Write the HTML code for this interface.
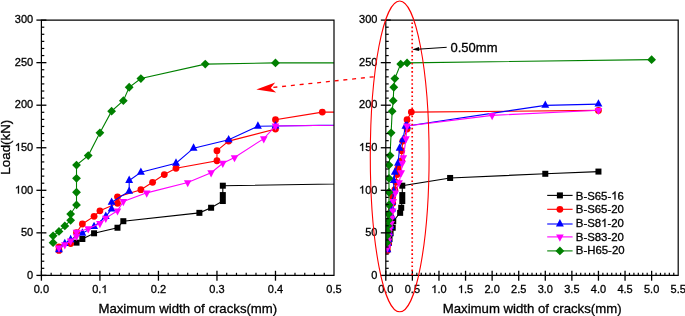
<!DOCTYPE html>
<html><head><meta charset="utf-8"><style>html,body{margin:0;padding:0;background:#fff;-webkit-font-smoothing:antialiased;width:685px;height:316px;overflow:hidden}svg{display:block;will-change:transform}</style></head><body>
<svg width="685" height="316" viewBox="0 0 685 316">
<defs><clipPath id="cl"><rect x="41.4" y="0" width="292.6" height="316"/></clipPath><clipPath id="cr"><rect x="385.8" y="0" width="292.4" height="316"/></clipPath></defs>
<style>.h{fill:none;stroke:none}text{stroke:#000;stroke-width:0.3px}.lg{font-family:"Liberation Sans",sans-serif;font-size:11.4px;fill:#000}.t{font-family:"Liberation Sans",sans-serif;font-size:11px;fill:#000}.ti{font-family:"Liberation Sans",sans-serif;font-size:13.35px;fill:#000}</style>
<rect width="685" height="316" fill="#fff"/>
<g clip-path="url(#cl)"><path d="M76.51 242.64 L82.36 238.98 L94.07 233.28 L117.48 227.74 L123.33 221.19 L199.4 212.85 L211.11 207.75 L222.81 201.02 L222.81 195.07 L222.81 185.7 L749.49 177.96 L1797 173.79 L2382.2 171.58" fill="none" stroke="#000" stroke-width="1.1"/><rect x="73.51" y="239.64" width="6" height="6" fill="#000"/><rect x="79.36" y="235.98" width="6" height="6" fill="#000"/><rect x="91.07" y="230.28" width="6" height="6" fill="#000"/><rect x="114.48" y="224.74" width="6" height="6" fill="#000"/><rect x="120.33" y="218.19" width="6" height="6" fill="#000"/><rect x="196.4" y="209.85" width="6" height="6" fill="#000"/><rect x="208.11" y="204.75" width="6" height="6" fill="#000"/><rect x="219.81" y="198.02" width="6" height="6" fill="#000"/><rect x="219.81" y="192.07" width="6" height="6" fill="#000"/><rect x="219.81" y="182.7" width="6" height="6" fill="#000"/></g>
<g clip-path="url(#cl)"><path d="M58.96 250.47 L58.96 246.81 L70.66 243.57 L76.51 232.68 L82.36 224 L94.07 216.34 L99.92 210.81 L117.48 203.24 L117.48 196.85 L140.88 189.7 L152.59 182.3 L164.29 174.56 L176 168.26 L216.96 160.77 L216.96 150.64 L228.66 141.11 L275.48 129.11 L275.48 119.67 L322.3 112.09 L2382.2 110.39" fill="none" stroke="#f00" stroke-width="1.1"/><circle cx="58.96" cy="250.47" r="3.4" fill="#f00"/><circle cx="58.96" cy="246.81" r="3.4" fill="#f00"/><circle cx="70.66" cy="243.57" r="3.4" fill="#f00"/><circle cx="76.51" cy="232.68" r="3.4" fill="#f00"/><circle cx="82.36" cy="224" r="3.4" fill="#f00"/><circle cx="94.07" cy="216.34" r="3.4" fill="#f00"/><circle cx="99.92" cy="210.81" r="3.4" fill="#f00"/><circle cx="117.48" cy="203.24" r="3.4" fill="#f00"/><circle cx="117.48" cy="196.85" r="3.4" fill="#f00"/><circle cx="140.88" cy="189.7" r="3.4" fill="#f00"/><circle cx="152.59" cy="182.3" r="3.4" fill="#f00"/><circle cx="164.29" cy="174.56" r="3.4" fill="#f00"/><circle cx="176" cy="168.26" r="3.4" fill="#f00"/><circle cx="216.96" cy="160.77" r="3.4" fill="#f00"/><circle cx="216.96" cy="150.64" r="3.4" fill="#f00"/><circle cx="228.66" cy="141.11" r="3.4" fill="#f00"/><circle cx="275.48" cy="129.11" r="3.4" fill="#f00"/><circle cx="275.48" cy="119.67" r="3.4" fill="#f00"/><circle cx="322.3" cy="112.09" r="3.4" fill="#f00"/></g>
<g clip-path="url(#cl)"><path d="M58.96 249.7 L64.81 243.57 L70.66 239.74 L82.36 233.28 L94.07 226.64 L105.77 216.51 L111.62 209.02 L111.62 202.38 L129.18 191.32 L129.18 180.43 L140.88 172.34 L176 163.24 L193.55 148.18 L228.66 139.84 L257.92 126.22 L275.48 125.96 L1797 105.37 L2382.2 104.09" fill="none" stroke="#00f" stroke-width="1.1"/><path d="M58.96 244.77L62.91 252.17L55.01 252.17Z" fill="#00f"/><path d="M64.81 238.64L68.76 246.04L60.86 246.04Z" fill="#00f"/><path d="M70.66 234.81L74.61 242.21L66.71 242.21Z" fill="#00f"/><path d="M82.36 228.34L86.31 235.74L78.41 235.74Z" fill="#00f"/><path d="M94.07 221.7L98.02 229.1L90.12 229.1Z" fill="#00f"/><path d="M105.77 211.58L109.72 218.98L101.82 218.98Z" fill="#00f"/><path d="M111.62 204.09L115.57 211.49L107.67 211.49Z" fill="#00f"/><path d="M111.62 197.45L115.57 204.85L107.67 204.85Z" fill="#00f"/><path d="M129.18 186.39L133.13 193.79L125.23 193.79Z" fill="#00f"/><path d="M129.18 175.5L133.13 182.9L125.23 182.9Z" fill="#00f"/><path d="M140.88 167.41L144.83 174.81L136.93 174.81Z" fill="#00f"/><path d="M176 158.3L179.95 165.7L172.05 165.7Z" fill="#00f"/><path d="M193.55 143.24L197.5 150.64L189.6 150.64Z" fill="#00f"/><path d="M228.66 134.9L232.61 142.3L224.71 142.3Z" fill="#00f"/><path d="M257.92 121.29L261.87 128.69L253.97 128.69Z" fill="#00f"/><path d="M275.48 121.03L279.43 128.43L271.53 128.43Z" fill="#00f"/></g>
<g clip-path="url(#cl)"><path d="M58.96 248 L64.81 244.76 L70.66 240.85 L76.51 236.25 L76.51 232.08 L88.22 228.68 L99.92 223.49 L105.77 218.13 L117.48 210.81 L123.33 201.45 L146.74 192.85 L187.7 182.56 L211.11 172.77 L222.81 163.24 L234.52 157.54 L263.78 138.64 L275.48 125.96 L1211.8 115.41 L2382.2 110.31" fill="none" stroke="#f0f" stroke-width="1.1"/><path d="M58.96 252.8L62.76 245.6L55.16 245.6Z" fill="#f0f"/><path d="M64.81 249.56L68.61 242.36L61.01 242.36Z" fill="#f0f"/><path d="M70.66 245.65L74.46 238.45L66.86 238.45Z" fill="#f0f"/><path d="M76.51 241.05L80.31 233.85L72.71 233.85Z" fill="#f0f"/><path d="M76.51 236.88L80.31 229.68L72.71 229.68Z" fill="#f0f"/><path d="M88.22 233.48L92.02 226.28L84.42 226.28Z" fill="#f0f"/><path d="M99.92 228.29L103.72 221.09L96.12 221.09Z" fill="#f0f"/><path d="M105.77 222.93L109.57 215.73L101.97 215.73Z" fill="#f0f"/><path d="M117.48 215.61L121.28 208.41L113.68 208.41Z" fill="#f0f"/><path d="M123.33 206.25L127.13 199.05L119.53 199.05Z" fill="#f0f"/><path d="M146.74 197.65L150.54 190.45L142.94 190.45Z" fill="#f0f"/><path d="M187.7 187.36L191.5 180.16L183.9 180.16Z" fill="#f0f"/><path d="M211.11 177.57L214.91 170.37L207.31 170.37Z" fill="#f0f"/><path d="M222.81 168.04L226.61 160.84L219.01 160.84Z" fill="#f0f"/><path d="M234.52 162.34L238.32 155.14L230.72 155.14Z" fill="#f0f"/><path d="M263.78 143.44L267.58 136.24L259.98 136.24Z" fill="#f0f"/><path d="M275.48 130.76L279.28 123.56L271.68 123.56Z" fill="#f0f"/></g>
<g clip-path="url(#cl)"><path d="M53.1 242.64 L53.1 235.83 L58.96 231.4 L64.81 225.96 L70.66 220.34 L70.66 214.04 L76.51 204.94 L76.51 192.26 L76.51 178.3 L76.51 165.03 L88.22 155.58 L99.92 132.86 L111.62 111.16 L123.33 100.69 L129.18 87.24 L140.88 78.56 L205.26 64.1 L275.48 62.91 L2967.4 59.67" fill="none" stroke="#008000" stroke-width="1.1"/><path d="M53.1 238.24L57.5 242.64L53.1 247.04L48.7 242.64Z" fill="#008000"/><path d="M53.1 231.43L57.5 235.83L53.1 240.23L48.7 235.83Z" fill="#008000"/><path d="M58.96 227L63.36 231.4L58.96 235.8L54.56 231.4Z" fill="#008000"/><path d="M64.81 221.56L69.21 225.96L64.81 230.36L60.41 225.96Z" fill="#008000"/><path d="M70.66 215.94L75.06 220.34L70.66 224.74L66.26 220.34Z" fill="#008000"/><path d="M70.66 209.64L75.06 214.04L70.66 218.44L66.26 214.04Z" fill="#008000"/><path d="M76.51 200.54L80.91 204.94L76.51 209.34L72.11 204.94Z" fill="#008000"/><path d="M76.51 187.86L80.91 192.26L76.51 196.66L72.11 192.26Z" fill="#008000"/><path d="M76.51 173.9L80.91 178.3L76.51 182.7L72.11 178.3Z" fill="#008000"/><path d="M76.51 160.63L80.91 165.03L76.51 169.43L72.11 165.03Z" fill="#008000"/><path d="M88.22 151.18L92.62 155.58L88.22 159.98L83.82 155.58Z" fill="#008000"/><path d="M99.92 128.46L104.32 132.86L99.92 137.26L95.52 132.86Z" fill="#008000"/><path d="M111.62 106.76L116.02 111.16L111.62 115.56L107.22 111.16Z" fill="#008000"/><path d="M123.33 96.29L127.73 100.69L123.33 105.09L118.93 100.69Z" fill="#008000"/><path d="M129.18 82.84L133.58 87.24L129.18 91.64L124.78 87.24Z" fill="#008000"/><path d="M140.88 74.16L145.28 78.56L140.88 82.96L136.48 78.56Z" fill="#008000"/><path d="M205.26 59.7L209.66 64.1L205.26 68.5L200.86 64.1Z" fill="#008000"/><path d="M275.48 58.51L279.88 62.91L275.48 67.31L271.08 62.91Z" fill="#008000"/></g>
<g clip-path="url(#cr)"><path d="M388.99 242.64 L389.52 238.98 L390.58 233.28 L392.71 227.74 L393.24 221.19 L400.15 212.85 L401.22 207.75 L402.28 201.02 L402.28 195.07 L402.28 185.7 L450.13 177.96 L545.29 173.79 L598.45 171.58" fill="none" stroke="#000" stroke-width="1.1"/><rect x="385.99" y="239.64" width="6" height="6" fill="#000"/><rect x="386.52" y="235.98" width="6" height="6" fill="#000"/><rect x="387.58" y="230.28" width="6" height="6" fill="#000"/><rect x="389.71" y="224.74" width="6" height="6" fill="#000"/><rect x="390.24" y="218.19" width="6" height="6" fill="#000"/><rect x="397.15" y="209.85" width="6" height="6" fill="#000"/><rect x="398.22" y="204.75" width="6" height="6" fill="#000"/><rect x="399.28" y="198.02" width="6" height="6" fill="#000"/><rect x="399.28" y="192.07" width="6" height="6" fill="#000"/><rect x="399.28" y="182.7" width="6" height="6" fill="#000"/><rect x="447.13" y="174.96" width="6" height="6" fill="#000"/><rect x="542.29" y="170.79" width="6" height="6" fill="#000"/><rect x="595.45" y="168.58" width="6" height="6" fill="#000"/></g>
<g clip-path="url(#cr)"><path d="M387.39 250.47 L387.39 246.81 L388.46 243.57 L388.99 232.68 L389.52 224 L390.58 216.34 L391.12 210.81 L392.71 203.24 L392.71 196.85 L394.84 189.7 L395.9 182.3 L396.96 174.56 L398.03 168.26 L401.75 160.77 L401.75 150.64 L402.81 141.11 L407.07 129.11 L407.07 119.67 L411.32 112.09 L598.45 110.39" fill="none" stroke="#f00" stroke-width="1.1"/><circle cx="387.39" cy="250.47" r="3.4" fill="#f00"/><circle cx="387.39" cy="246.81" r="3.4" fill="#f00"/><circle cx="388.46" cy="243.57" r="3.4" fill="#f00"/><circle cx="388.99" cy="232.68" r="3.4" fill="#f00"/><circle cx="389.52" cy="224" r="3.4" fill="#f00"/><circle cx="390.58" cy="216.34" r="3.4" fill="#f00"/><circle cx="391.12" cy="210.81" r="3.4" fill="#f00"/><circle cx="392.71" cy="203.24" r="3.4" fill="#f00"/><circle cx="392.71" cy="196.85" r="3.4" fill="#f00"/><circle cx="394.84" cy="189.7" r="3.4" fill="#f00"/><circle cx="395.9" cy="182.3" r="3.4" fill="#f00"/><circle cx="396.96" cy="174.56" r="3.4" fill="#f00"/><circle cx="398.03" cy="168.26" r="3.4" fill="#f00"/><circle cx="401.75" cy="160.77" r="3.4" fill="#f00"/><circle cx="401.75" cy="150.64" r="3.4" fill="#f00"/><circle cx="402.81" cy="141.11" r="3.4" fill="#f00"/><circle cx="407.07" cy="129.11" r="3.4" fill="#f00"/><circle cx="407.07" cy="119.67" r="3.4" fill="#f00"/><circle cx="411.32" cy="112.09" r="3.4" fill="#f00"/><circle cx="598.45" cy="110.39" r="3.4" fill="#f00"/></g>
<g clip-path="url(#cr)"><path d="M387.39 249.7 L387.93 243.57 L388.46 239.74 L389.52 233.28 L390.58 226.64 L391.65 216.51 L392.18 209.02 L392.18 202.38 L393.77 191.32 L393.77 180.43 L394.84 172.34 L398.03 163.24 L399.62 148.18 L402.81 139.84 L405.47 126.22 L407.07 125.96 L545.29 105.37 L598.45 104.09" fill="none" stroke="#00f" stroke-width="1.1"/><path d="M387.39 244.77L391.34 252.17L383.44 252.17Z" fill="#00f"/><path d="M387.93 238.64L391.88 246.04L383.98 246.04Z" fill="#00f"/><path d="M388.46 234.81L392.41 242.21L384.51 242.21Z" fill="#00f"/><path d="M389.52 228.34L393.47 235.74L385.57 235.74Z" fill="#00f"/><path d="M390.58 221.7L394.53 229.1L386.63 229.1Z" fill="#00f"/><path d="M391.65 211.58L395.6 218.98L387.7 218.98Z" fill="#00f"/><path d="M392.18 204.09L396.13 211.49L388.23 211.49Z" fill="#00f"/><path d="M392.18 197.45L396.13 204.85L388.23 204.85Z" fill="#00f"/><path d="M393.77 186.39L397.72 193.79L389.82 193.79Z" fill="#00f"/><path d="M393.77 175.5L397.72 182.9L389.82 182.9Z" fill="#00f"/><path d="M394.84 167.41L398.79 174.81L390.89 174.81Z" fill="#00f"/><path d="M398.03 158.3L401.98 165.7L394.08 165.7Z" fill="#00f"/><path d="M399.62 143.24L403.57 150.64L395.67 150.64Z" fill="#00f"/><path d="M402.81 134.9L406.76 142.3L398.86 142.3Z" fill="#00f"/><path d="M405.47 121.29L409.42 128.69L401.52 128.69Z" fill="#00f"/><path d="M407.07 121.03L411.02 128.43L403.12 128.43Z" fill="#00f"/><path d="M545.29 100.44L549.24 107.84L541.34 107.84Z" fill="#00f"/><path d="M598.45 99.16L602.4 106.56L594.5 106.56Z" fill="#00f"/></g>
<g clip-path="url(#cr)"><path d="M387.39 248 L387.93 244.76 L388.46 240.85 L388.99 236.25 L388.99 232.08 L390.05 228.68 L391.12 223.49 L391.65 218.13 L392.71 210.81 L393.24 201.45 L395.37 192.85 L399.09 182.56 L401.22 172.77 L402.28 163.24 L403.34 157.54 L406 138.64 L407.07 125.96 L492.13 115.41 L598.45 110.31" fill="none" stroke="#f0f" stroke-width="1.1"/><path d="M387.39 252.8L391.19 245.6L383.59 245.6Z" fill="#f0f"/><path d="M387.93 249.56L391.73 242.36L384.13 242.36Z" fill="#f0f"/><path d="M388.46 245.65L392.26 238.45L384.66 238.45Z" fill="#f0f"/><path d="M388.99 241.05L392.79 233.85L385.19 233.85Z" fill="#f0f"/><path d="M388.99 236.88L392.79 229.68L385.19 229.68Z" fill="#f0f"/><path d="M390.05 233.48L393.85 226.28L386.25 226.28Z" fill="#f0f"/><path d="M391.12 228.29L394.92 221.09L387.32 221.09Z" fill="#f0f"/><path d="M391.65 222.93L395.45 215.73L387.85 215.73Z" fill="#f0f"/><path d="M392.71 215.61L396.51 208.41L388.91 208.41Z" fill="#f0f"/><path d="M393.24 206.25L397.04 199.05L389.44 199.05Z" fill="#f0f"/><path d="M395.37 197.65L399.17 190.45L391.57 190.45Z" fill="#f0f"/><path d="M399.09 187.36L402.89 180.16L395.29 180.16Z" fill="#f0f"/><path d="M401.22 177.57L405.02 170.37L397.42 170.37Z" fill="#f0f"/><path d="M402.28 168.04L406.08 160.84L398.48 160.84Z" fill="#f0f"/><path d="M403.34 162.34L407.14 155.14L399.54 155.14Z" fill="#f0f"/><path d="M406 143.44L409.8 136.24L402.2 136.24Z" fill="#f0f"/><path d="M407.07 130.76L410.87 123.56L403.27 123.56Z" fill="#f0f"/><path d="M492.13 120.21L495.93 113.01L488.33 113.01Z" fill="#f0f"/><path d="M598.45 115.11L602.25 107.91L594.65 107.91Z" fill="#f0f"/></g>
<g clip-path="url(#cr)"><path d="M386.86 242.64 L386.86 235.83 L387.39 231.4 L387.93 225.96 L388.46 220.34 L388.46 214.04 L388.99 204.94 L388.99 192.26 L388.99 178.3 L388.99 165.03 L390.05 155.58 L391.12 132.86 L392.18 111.16 L393.24 100.69 L393.77 87.24 L394.84 78.56 L400.69 64.1 L407.07 62.91 L651.62 59.67" fill="none" stroke="#008000" stroke-width="1.1"/><path d="M386.86 238.24L391.26 242.64L386.86 247.04L382.46 242.64Z" fill="#008000"/><path d="M386.86 231.43L391.26 235.83L386.86 240.23L382.46 235.83Z" fill="#008000"/><path d="M387.39 227L391.79 231.4L387.39 235.8L382.99 231.4Z" fill="#008000"/><path d="M387.93 221.56L392.33 225.96L387.93 230.36L383.53 225.96Z" fill="#008000"/><path d="M388.46 215.94L392.86 220.34L388.46 224.74L384.06 220.34Z" fill="#008000"/><path d="M388.46 209.64L392.86 214.04L388.46 218.44L384.06 214.04Z" fill="#008000"/><path d="M388.99 200.54L393.39 204.94L388.99 209.34L384.59 204.94Z" fill="#008000"/><path d="M388.99 187.86L393.39 192.26L388.99 196.66L384.59 192.26Z" fill="#008000"/><path d="M388.99 173.9L393.39 178.3L388.99 182.7L384.59 178.3Z" fill="#008000"/><path d="M388.99 160.63L393.39 165.03L388.99 169.43L384.59 165.03Z" fill="#008000"/><path d="M390.05 151.18L394.45 155.58L390.05 159.98L385.65 155.58Z" fill="#008000"/><path d="M391.12 128.46L395.52 132.86L391.12 137.26L386.72 132.86Z" fill="#008000"/><path d="M392.18 106.76L396.58 111.16L392.18 115.56L387.78 111.16Z" fill="#008000"/><path d="M393.24 96.29L397.64 100.69L393.24 105.09L388.84 100.69Z" fill="#008000"/><path d="M393.77 82.84L398.17 87.24L393.77 91.64L389.37 87.24Z" fill="#008000"/><path d="M394.84 74.16L399.24 78.56L394.84 82.96L390.44 78.56Z" fill="#008000"/><path d="M400.69 59.7L405.09 64.1L400.69 68.5L396.29 64.1Z" fill="#008000"/><path d="M407.07 58.51L411.47 62.91L407.07 67.31L402.67 62.91Z" fill="#008000"/><path d="M651.62 55.27L656.02 59.67L651.62 64.07L647.22 59.67Z" fill="#008000"/></g>
<path d="M41.4 20.1H334V275.4H41.4Z" fill="none" stroke="#000" stroke-width="1.2"/>
<path d="M36.4 275.4H46.4" stroke="#000" stroke-width="1.3"/>
<path d="M41.4 268.31H44.3" stroke="#000" stroke-width="1.2"/>
<path d="M41.4 261.22H44.3" stroke="#000" stroke-width="1.2"/>
<path d="M41.4 254.12H44.3" stroke="#000" stroke-width="1.2"/>
<path d="M41.4 247.03H44.3" stroke="#000" stroke-width="1.2"/>
<path d="M41.4 239.94H44.3" stroke="#000" stroke-width="1.2"/>
<text x="33.2" y="278.6" text-anchor="end" class="t">0</text>
<path d="M36.4 232.85H46.4" stroke="#000" stroke-width="1.3"/>
<path d="M41.4 225.76H44.3" stroke="#000" stroke-width="1.2"/>
<path d="M41.4 218.67H44.3" stroke="#000" stroke-width="1.2"/>
<path d="M41.4 211.57H44.3" stroke="#000" stroke-width="1.2"/>
<path d="M41.4 204.48H44.3" stroke="#000" stroke-width="1.2"/>
<path d="M41.4 197.39H44.3" stroke="#000" stroke-width="1.2"/>
<text x="33.2" y="236.05" text-anchor="end" class="t">50</text>
<path d="M36.4 190.3H46.4" stroke="#000" stroke-width="1.3"/>
<path d="M41.4 183.21H44.3" stroke="#000" stroke-width="1.2"/>
<path d="M41.4 176.12H44.3" stroke="#000" stroke-width="1.2"/>
<path d="M41.4 169.02H44.3" stroke="#000" stroke-width="1.2"/>
<path d="M41.4 161.93H44.3" stroke="#000" stroke-width="1.2"/>
<path d="M41.4 154.84H44.3" stroke="#000" stroke-width="1.2"/>
<text x="33.2" y="193.5" text-anchor="end" class="t"><tspan class="h">1</tspan>00</text>
<path d="M36.4 147.75H46.4" stroke="#000" stroke-width="1.3"/>
<path d="M41.4 140.66H44.3" stroke="#000" stroke-width="1.2"/>
<path d="M41.4 133.57H44.3" stroke="#000" stroke-width="1.2"/>
<path d="M41.4 126.47H44.3" stroke="#000" stroke-width="1.2"/>
<path d="M41.4 119.38H44.3" stroke="#000" stroke-width="1.2"/>
<path d="M41.4 112.29H44.3" stroke="#000" stroke-width="1.2"/>
<text x="33.2" y="150.95" text-anchor="end" class="t"><tspan class="h">1</tspan>50</text>
<path d="M36.4 105.2H46.4" stroke="#000" stroke-width="1.3"/>
<path d="M41.4 98.11H44.3" stroke="#000" stroke-width="1.2"/>
<path d="M41.4 91.02H44.3" stroke="#000" stroke-width="1.2"/>
<path d="M41.4 83.92H44.3" stroke="#000" stroke-width="1.2"/>
<path d="M41.4 76.83H44.3" stroke="#000" stroke-width="1.2"/>
<path d="M41.4 69.74H44.3" stroke="#000" stroke-width="1.2"/>
<text x="33.2" y="108.4" text-anchor="end" class="t">200</text>
<path d="M36.4 62.65H46.4" stroke="#000" stroke-width="1.3"/>
<path d="M41.4 55.56H44.3" stroke="#000" stroke-width="1.2"/>
<path d="M41.4 48.47H44.3" stroke="#000" stroke-width="1.2"/>
<path d="M41.4 41.37H44.3" stroke="#000" stroke-width="1.2"/>
<path d="M41.4 34.28H44.3" stroke="#000" stroke-width="1.2"/>
<path d="M41.4 27.19H44.3" stroke="#000" stroke-width="1.2"/>
<text x="33.2" y="65.85" text-anchor="end" class="t">250</text>
<path d="M36.4 20.1H46.4" stroke="#000" stroke-width="1.3"/>
<text x="33.2" y="23.3" text-anchor="end" class="t">300</text>
<path d="M41.4 270.8V280.7" stroke="#000" stroke-width="1.3"/>
<path d="M51.15 275.4V272.8" stroke="#000" stroke-width="1.2"/>
<path d="M60.91 275.4V272.8" stroke="#000" stroke-width="1.2"/>
<path d="M70.66 275.4V272.8" stroke="#000" stroke-width="1.2"/>
<path d="M80.41 275.4V272.8" stroke="#000" stroke-width="1.2"/>
<path d="M90.17 275.4V272.8" stroke="#000" stroke-width="1.2"/>
<text x="41.4" y="293" text-anchor="middle" class="t">0.0</text>
<path d="M99.92 270.8V280.7" stroke="#000" stroke-width="1.3"/>
<path d="M109.67 275.4V272.8" stroke="#000" stroke-width="1.2"/>
<path d="M119.43 275.4V272.8" stroke="#000" stroke-width="1.2"/>
<path d="M129.18 275.4V272.8" stroke="#000" stroke-width="1.2"/>
<path d="M138.93 275.4V272.8" stroke="#000" stroke-width="1.2"/>
<path d="M148.69 275.4V272.8" stroke="#000" stroke-width="1.2"/>
<text x="99.92" y="293" text-anchor="middle" class="t">0.<tspan class="h">1</tspan></text>
<path d="M158.44 270.8V280.7" stroke="#000" stroke-width="1.3"/>
<path d="M168.19 275.4V272.8" stroke="#000" stroke-width="1.2"/>
<path d="M177.95 275.4V272.8" stroke="#000" stroke-width="1.2"/>
<path d="M187.7 275.4V272.8" stroke="#000" stroke-width="1.2"/>
<path d="M197.45 275.4V272.8" stroke="#000" stroke-width="1.2"/>
<path d="M207.21 275.4V272.8" stroke="#000" stroke-width="1.2"/>
<text x="158.44" y="293" text-anchor="middle" class="t">0.2</text>
<path d="M216.96 270.8V280.7" stroke="#000" stroke-width="1.3"/>
<path d="M226.71 275.4V272.8" stroke="#000" stroke-width="1.2"/>
<path d="M236.47 275.4V272.8" stroke="#000" stroke-width="1.2"/>
<path d="M246.22 275.4V272.8" stroke="#000" stroke-width="1.2"/>
<path d="M255.97 275.4V272.8" stroke="#000" stroke-width="1.2"/>
<path d="M265.73 275.4V272.8" stroke="#000" stroke-width="1.2"/>
<text x="216.96" y="293" text-anchor="middle" class="t">0.3</text>
<path d="M275.48 270.8V280.7" stroke="#000" stroke-width="1.3"/>
<path d="M285.23 275.4V272.8" stroke="#000" stroke-width="1.2"/>
<path d="M294.99 275.4V272.8" stroke="#000" stroke-width="1.2"/>
<path d="M304.74 275.4V272.8" stroke="#000" stroke-width="1.2"/>
<path d="M314.49 275.4V272.8" stroke="#000" stroke-width="1.2"/>
<path d="M324.25 275.4V272.8" stroke="#000" stroke-width="1.2"/>
<text x="275.48" y="293" text-anchor="middle" class="t">0.4</text>
<text x="334" y="293" text-anchor="middle" class="t">0.5</text>
<path d="M385.8 20.1H678.2V275.4H385.8Z" fill="none" stroke="#000" stroke-width="1.2"/>
<path d="M380.8 275.4H390.8" stroke="#000" stroke-width="1.3"/>
<path d="M385.8 268.31H388.7" stroke="#000" stroke-width="1.2"/>
<path d="M385.8 261.22H388.7" stroke="#000" stroke-width="1.2"/>
<path d="M385.8 254.12H388.7" stroke="#000" stroke-width="1.2"/>
<path d="M385.8 247.03H388.7" stroke="#000" stroke-width="1.2"/>
<path d="M385.8 239.94H388.7" stroke="#000" stroke-width="1.2"/>
<text x="377.4" y="278.6" text-anchor="end" class="t">0</text>
<path d="M380.8 232.85H390.8" stroke="#000" stroke-width="1.3"/>
<path d="M385.8 225.76H388.7" stroke="#000" stroke-width="1.2"/>
<path d="M385.8 218.67H388.7" stroke="#000" stroke-width="1.2"/>
<path d="M385.8 211.57H388.7" stroke="#000" stroke-width="1.2"/>
<path d="M385.8 204.48H388.7" stroke="#000" stroke-width="1.2"/>
<path d="M385.8 197.39H388.7" stroke="#000" stroke-width="1.2"/>
<text x="377.4" y="236.05" text-anchor="end" class="t">50</text>
<path d="M380.8 190.3H390.8" stroke="#000" stroke-width="1.3"/>
<path d="M385.8 183.21H388.7" stroke="#000" stroke-width="1.2"/>
<path d="M385.8 176.12H388.7" stroke="#000" stroke-width="1.2"/>
<path d="M385.8 169.02H388.7" stroke="#000" stroke-width="1.2"/>
<path d="M385.8 161.93H388.7" stroke="#000" stroke-width="1.2"/>
<path d="M385.8 154.84H388.7" stroke="#000" stroke-width="1.2"/>
<text x="377.4" y="193.5" text-anchor="end" class="t"><tspan class="h">1</tspan>00</text>
<path d="M380.8 147.75H390.8" stroke="#000" stroke-width="1.3"/>
<path d="M385.8 140.66H388.7" stroke="#000" stroke-width="1.2"/>
<path d="M385.8 133.57H388.7" stroke="#000" stroke-width="1.2"/>
<path d="M385.8 126.47H388.7" stroke="#000" stroke-width="1.2"/>
<path d="M385.8 119.38H388.7" stroke="#000" stroke-width="1.2"/>
<path d="M385.8 112.29H388.7" stroke="#000" stroke-width="1.2"/>
<text x="377.4" y="150.95" text-anchor="end" class="t"><tspan class="h">1</tspan>50</text>
<path d="M380.8 105.2H390.8" stroke="#000" stroke-width="1.3"/>
<path d="M385.8 98.11H388.7" stroke="#000" stroke-width="1.2"/>
<path d="M385.8 91.02H388.7" stroke="#000" stroke-width="1.2"/>
<path d="M385.8 83.92H388.7" stroke="#000" stroke-width="1.2"/>
<path d="M385.8 76.83H388.7" stroke="#000" stroke-width="1.2"/>
<path d="M385.8 69.74H388.7" stroke="#000" stroke-width="1.2"/>
<text x="377.4" y="108.4" text-anchor="end" class="t">200</text>
<path d="M380.8 62.65H390.8" stroke="#000" stroke-width="1.3"/>
<path d="M385.8 55.56H388.7" stroke="#000" stroke-width="1.2"/>
<path d="M385.8 48.47H388.7" stroke="#000" stroke-width="1.2"/>
<path d="M385.8 41.37H388.7" stroke="#000" stroke-width="1.2"/>
<path d="M385.8 34.28H388.7" stroke="#000" stroke-width="1.2"/>
<path d="M385.8 27.19H388.7" stroke="#000" stroke-width="1.2"/>
<text x="377.4" y="65.85" text-anchor="end" class="t">250</text>
<path d="M380.8 20.1H390.8" stroke="#000" stroke-width="1.3"/>
<text x="377.4" y="23.3" text-anchor="end" class="t">300</text>
<path d="M385.8 270.8V280.7" stroke="#000" stroke-width="1.3"/>
<path d="M390.23 275.4V272.8" stroke="#000" stroke-width="1.2"/>
<path d="M394.66 275.4V272.8" stroke="#000" stroke-width="1.2"/>
<path d="M399.09 275.4V272.8" stroke="#000" stroke-width="1.2"/>
<path d="M403.52 275.4V272.8" stroke="#000" stroke-width="1.2"/>
<path d="M407.95 275.4V272.8" stroke="#000" stroke-width="1.2"/>
<text x="385.8" y="293" text-anchor="middle" class="t">0.0</text>
<path d="M412.38 270.8V280.7" stroke="#000" stroke-width="1.3"/>
<path d="M416.81 275.4V272.8" stroke="#000" stroke-width="1.2"/>
<path d="M421.24 275.4V272.8" stroke="#000" stroke-width="1.2"/>
<path d="M425.67 275.4V272.8" stroke="#000" stroke-width="1.2"/>
<path d="M430.1 275.4V272.8" stroke="#000" stroke-width="1.2"/>
<path d="M434.53 275.4V272.8" stroke="#000" stroke-width="1.2"/>
<text x="412.38" y="293" text-anchor="middle" class="t">0.5</text>
<path d="M438.96 270.8V280.7" stroke="#000" stroke-width="1.3"/>
<path d="M443.39 275.4V272.8" stroke="#000" stroke-width="1.2"/>
<path d="M447.82 275.4V272.8" stroke="#000" stroke-width="1.2"/>
<path d="M452.25 275.4V272.8" stroke="#000" stroke-width="1.2"/>
<path d="M456.68 275.4V272.8" stroke="#000" stroke-width="1.2"/>
<path d="M461.12 275.4V272.8" stroke="#000" stroke-width="1.2"/>
<text x="438.96" y="293" text-anchor="middle" class="t"><tspan class="h">1</tspan>.0</text>
<path d="M465.55 270.8V280.7" stroke="#000" stroke-width="1.3"/>
<path d="M469.98 275.4V272.8" stroke="#000" stroke-width="1.2"/>
<path d="M474.41 275.4V272.8" stroke="#000" stroke-width="1.2"/>
<path d="M478.84 275.4V272.8" stroke="#000" stroke-width="1.2"/>
<path d="M483.27 275.4V272.8" stroke="#000" stroke-width="1.2"/>
<path d="M487.7 275.4V272.8" stroke="#000" stroke-width="1.2"/>
<text x="465.55" y="293" text-anchor="middle" class="t"><tspan class="h">1</tspan>.5</text>
<path d="M492.13 270.8V280.7" stroke="#000" stroke-width="1.3"/>
<path d="M496.56 275.4V272.8" stroke="#000" stroke-width="1.2"/>
<path d="M500.99 275.4V272.8" stroke="#000" stroke-width="1.2"/>
<path d="M505.42 275.4V272.8" stroke="#000" stroke-width="1.2"/>
<path d="M509.85 275.4V272.8" stroke="#000" stroke-width="1.2"/>
<path d="M514.28 275.4V272.8" stroke="#000" stroke-width="1.2"/>
<text x="492.13" y="293" text-anchor="middle" class="t">2.0</text>
<path d="M518.71 270.8V280.7" stroke="#000" stroke-width="1.3"/>
<path d="M523.14 275.4V272.8" stroke="#000" stroke-width="1.2"/>
<path d="M527.57 275.4V272.8" stroke="#000" stroke-width="1.2"/>
<path d="M532 275.4V272.8" stroke="#000" stroke-width="1.2"/>
<path d="M536.43 275.4V272.8" stroke="#000" stroke-width="1.2"/>
<path d="M540.86 275.4V272.8" stroke="#000" stroke-width="1.2"/>
<text x="518.71" y="293" text-anchor="middle" class="t">2.5</text>
<path d="M545.29 270.8V280.7" stroke="#000" stroke-width="1.3"/>
<path d="M549.72 275.4V272.8" stroke="#000" stroke-width="1.2"/>
<path d="M554.15 275.4V272.8" stroke="#000" stroke-width="1.2"/>
<path d="M558.58 275.4V272.8" stroke="#000" stroke-width="1.2"/>
<path d="M563.01 275.4V272.8" stroke="#000" stroke-width="1.2"/>
<path d="M567.44 275.4V272.8" stroke="#000" stroke-width="1.2"/>
<text x="545.29" y="293" text-anchor="middle" class="t">3.0</text>
<path d="M571.87 270.8V280.7" stroke="#000" stroke-width="1.3"/>
<path d="M576.3 275.4V272.8" stroke="#000" stroke-width="1.2"/>
<path d="M580.73 275.4V272.8" stroke="#000" stroke-width="1.2"/>
<path d="M585.16 275.4V272.8" stroke="#000" stroke-width="1.2"/>
<path d="M589.59 275.4V272.8" stroke="#000" stroke-width="1.2"/>
<path d="M594.02 275.4V272.8" stroke="#000" stroke-width="1.2"/>
<text x="571.87" y="293" text-anchor="middle" class="t">3.5</text>
<path d="M598.45 270.8V280.7" stroke="#000" stroke-width="1.3"/>
<path d="M602.88 275.4V272.8" stroke="#000" stroke-width="1.2"/>
<path d="M607.32 275.4V272.8" stroke="#000" stroke-width="1.2"/>
<path d="M611.75 275.4V272.8" stroke="#000" stroke-width="1.2"/>
<path d="M616.18 275.4V272.8" stroke="#000" stroke-width="1.2"/>
<path d="M620.61 275.4V272.8" stroke="#000" stroke-width="1.2"/>
<text x="598.45" y="293" text-anchor="middle" class="t">4.0</text>
<path d="M625.04 270.8V280.7" stroke="#000" stroke-width="1.3"/>
<path d="M629.47 275.4V272.8" stroke="#000" stroke-width="1.2"/>
<path d="M633.9 275.4V272.8" stroke="#000" stroke-width="1.2"/>
<path d="M638.33 275.4V272.8" stroke="#000" stroke-width="1.2"/>
<path d="M642.76 275.4V272.8" stroke="#000" stroke-width="1.2"/>
<path d="M647.19 275.4V272.8" stroke="#000" stroke-width="1.2"/>
<text x="625.04" y="293" text-anchor="middle" class="t">4.5</text>
<path d="M651.62 270.8V280.7" stroke="#000" stroke-width="1.3"/>
<path d="M656.05 275.4V272.8" stroke="#000" stroke-width="1.2"/>
<path d="M660.48 275.4V272.8" stroke="#000" stroke-width="1.2"/>
<path d="M664.91 275.4V272.8" stroke="#000" stroke-width="1.2"/>
<path d="M669.34 275.4V272.8" stroke="#000" stroke-width="1.2"/>
<path d="M673.77 275.4V272.8" stroke="#000" stroke-width="1.2"/>
<text x="651.62" y="293" text-anchor="middle" class="t">5.0</text>
<text x="678.2" y="293" text-anchor="middle" class="t">5.5</text>
<text x="187.85" y="313" text-anchor="middle" class="ti" style="font-size:13.2px">Maximum width of cracks(mm)</text>
<text x="532.15" y="313" text-anchor="middle" class="ti" style="font-size:13.2px">Maximum width of cracks(mm)</text>
<text transform="translate(9.8 147.2) rotate(-90)" text-anchor="middle" class="ti">Load(kN)</text>
<path d="M547.2 195.4H572.6" stroke="#000" stroke-width="1.1"/>
<rect x="556.9" y="192.4" width="6" height="6" fill="#000"/>
<text x="575.8" y="199.6" class="lg">B-S65-<tspan class="h">1</tspan>6</text>
<path d="M547.2 209.3H572.6" stroke="#f00" stroke-width="1.1"/>
<circle cx="559.9" cy="209.3" r="3.4" fill="#f00"/>
<text x="575.8" y="213.25" class="lg">B-S65-20</text>
<path d="M547.2 224H572.6" stroke="#00f" stroke-width="1.1"/>
<path d="M559.9 219.07L563.85 226.47L555.95 226.47Z" fill="#00f"/>
<text x="575.8" y="226.9" class="lg">B-S8<tspan class="h">1</tspan>-20</text>
<path d="M547.2 236.9H572.6" stroke="#f0f" stroke-width="1.1"/>
<path d="M559.9 241.7L563.7 234.5L556.1 234.5Z" fill="#f0f"/>
<text x="575.8" y="240.55" class="lg">B-S83-20</text>
<path d="M547.2 250.9H572.6" stroke="#008000" stroke-width="1.1"/>
<path d="M559.9 246.5L564.3 250.9L559.9 255.3L555.5 250.9Z" fill="#008000"/>
<text x="575.8" y="254.2" class="lg">B-H65-20</text>
<path d="M412.2 22.5V275.5" stroke="#f00" stroke-width="1.7" stroke-dasharray="1.6 2.45"/>
<ellipse cx="399.7" cy="156.4" rx="29.4" ry="155.4" fill="none" stroke="#f00" stroke-width="1.1"/>
<path d="M446.7 47.3L418 49.2" stroke="#000" stroke-width="1"/>
<path d="M412.2 49.4L419 47L419.2 50.9Z" fill="#000"/>
<text x="450.5" y="52" class="ti" style="font-size:13px">0.50mm</text>
<path d="M373.6 76.8L270 87.8" stroke="#f00" stroke-width="1.3" stroke-dasharray="4 4.8"/>
<path d="M256.3 89.4L275.2 82.4L270.8 87.9L276.2 92.5Z" fill="#f00"/>
<path d="M763 0L583 0L583 1147Q518 1085 412 1023Q306 961 221 930L221 1104Q369 1174 480 1273Q591 1372 637 1466L763 1466Z" transform="matrix(0.005371 0 0 -0.005371 14.83 193.5)" fill="#000" stroke="#000" stroke-width="55.85"/>
<path d="M763 0L583 0L583 1147Q518 1085 412 1023Q306 961 221 930L221 1104Q369 1174 480 1273Q591 1372 637 1466L763 1466Z" transform="matrix(0.005371 0 0 -0.005371 14.83 150.95)" fill="#000" stroke="#000" stroke-width="55.85"/>
<path d="M763 0L583 0L583 1147Q518 1085 412 1023Q306 961 221 930L221 1104Q369 1174 480 1273Q591 1372 637 1466L763 1466Z" transform="matrix(0.005371 0 0 -0.005371 101.45 293)" fill="#000" stroke="#000" stroke-width="55.85"/>
<path d="M763 0L583 0L583 1147Q518 1085 412 1023Q306 961 221 930L221 1104Q369 1174 480 1273Q591 1372 637 1466L763 1466Z" transform="matrix(0.005371 0 0 -0.005371 359.02 193.5)" fill="#000" stroke="#000" stroke-width="55.85"/>
<path d="M763 0L583 0L583 1147Q518 1085 412 1023Q306 961 221 930L221 1104Q369 1174 480 1273Q591 1372 637 1466L763 1466Z" transform="matrix(0.005371 0 0 -0.005371 359.02 150.95)" fill="#000" stroke="#000" stroke-width="55.85"/>
<path d="M763 0L583 0L583 1147Q518 1085 412 1023Q306 961 221 930L221 1104Q369 1174 480 1273Q591 1372 637 1466L763 1466Z" transform="matrix(0.005371 0 0 -0.005371 431.3 293)" fill="#000" stroke="#000" stroke-width="55.85"/>
<path d="M763 0L583 0L583 1147Q518 1085 412 1023Q306 961 221 930L221 1104Q369 1174 480 1273Q591 1372 637 1466L763 1466Z" transform="matrix(0.005371 0 0 -0.005371 457.89 293)" fill="#000" stroke="#000" stroke-width="55.85"/>
<path d="M763 0L583 0L583 1147Q518 1085 412 1023Q306 961 221 930L221 1104Q369 1174 480 1273Q591 1372 637 1466L763 1466Z" transform="matrix(0.005566 0 0 -0.005566 611.25 199.6)" fill="#000" stroke="#000" stroke-width="53.89"/>
<path d="M763 0L583 0L583 1147Q518 1085 412 1023Q306 961 221 930L221 1104Q369 1174 480 1273Q591 1372 637 1466L763 1466Z" transform="matrix(0.005566 0 0 -0.005566 601.13 226.9)" fill="#000" stroke="#000" stroke-width="53.89"/>
</svg>
</body></html>
